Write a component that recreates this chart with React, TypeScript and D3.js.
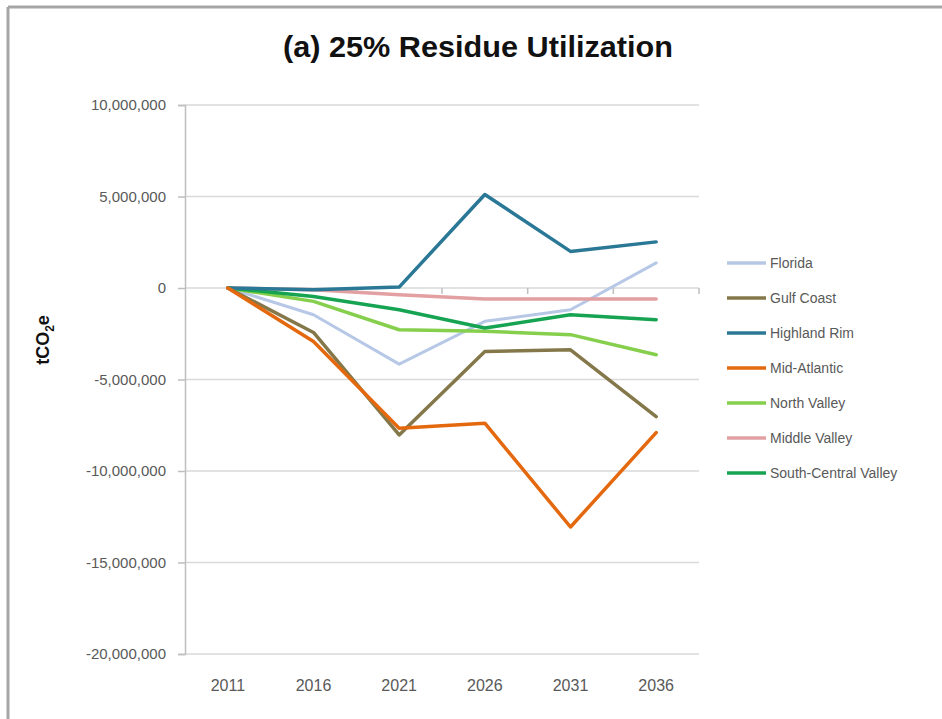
import React, { useEffect, useRef } from 'react';
import * as d3 from 'd3';

// Years on the category axis
const years = ['2011', '2016', '2021', '2026', '2031', '2036'];

// Series values (tCO2e)
const florida = [0, -1460000, -4160000, -1820000, -1190000, 1370000];
const gulfCoast = [0, -2430000, -8030000, -3470000, -3380000, -7030000];
const highlandRim = [0, -100000, 50000, 5110000, 2000000, 2520000];
const midAtlantic = [0, -2920000, -7660000, -7390000, -13060000, -7900000];
const northValley = [0, -730000, -2280000, -2370000, -2550000, -3650000];
const middleValley = [0, -100000, -370000, -600000, -600000, -600000];
const southCentralValley = [0, -460000, -1190000, -2190000, -1460000, -1730000];

const seriesNames = ['Florida', 'Gulf Coast', 'Highland Rim', 'Mid-Atlantic', 'North Valley', 'Middle Valley', 'South-Central Valley'];
const seriesValues = [florida, gulfCoast, highlandRim, midAtlantic, northValley, middleValley, southCentralValley];
const seriesColors = ['#b7c8e6', '#84784a', '#2a7896', '#e4690e', '#86cf4c', '#e2a0a3', '#16a352'];

const yTicks = [10000000, 5000000, 0, -5000000, -10000000, -15000000, -20000000];

const App = () => {
  const ref = useRef<SVGSVGElement | null>(null);

  useEffect(() => {
    if (!ref.current) return;
    const svg = d3.select(ref.current);
    svg.selectAll('*').remove();

    const width = 942;
    const height = 719;
    const plot = { left: 185, right: 699, top: 105, bottom: 654 };

    // Outer frame (top and left edge)
    svg.append('line').attr('x1', 8).attr('x2', width).attr('y1', 7).attr('y2', 7)
      .attr('stroke', '#a6a6a6').attr('stroke-width', 3);
    svg.append('line').attr('x1', 8).attr('x2', 8).attr('y1', 7).attr('y2', height)
      .attr('stroke', '#a6a6a6').attr('stroke-width', 3);

    const x = d3.scaleBand<string>()
      .domain(years)
      .range([plot.left, plot.right])
      .padding(0);

    const y = d3.scaleLinear()
      .domain([-20000000, 10000000])
      .range([plot.bottom, plot.top]);

    // Gridlines
    svg.append('g')
      .selectAll('line')
      .data(yTicks)
      .enter()
      .append('line')
      .attr('x1', plot.left)
      .attr('x2', plot.right)
      .attr('y1', d => y(d))
      .attr('y2', d => y(d))
      .attr('stroke', '#d9d9d9')
      .attr('stroke-width', 1.5);

    // Y axis (plain hyphen for negatives, like Excel)
    const fmt = (d: number) => d3.format(',')(d).replace('\u2212', '-');
    const yAxis = svg.append('g')
      .attr('transform', `translate(${plot.left},0)`)
      .call(d3.axisLeft(y).tickValues(yTicks).tickSize(7).tickPadding(12)
        .tickFormat(d => fmt(d as number)) as any);
    yAxis.select('.domain').attr('stroke', '#bfbfbf').attr('stroke-width', 1.5);
    yAxis.selectAll('.tick line').attr('stroke', '#bfbfbf').attr('stroke-width', 1.5);
    yAxis.selectAll('.tick text')
      .style('font-family', '"Liberation Sans", Arial, sans-serif')
      .style('font-size', '15px')
      .attr('fill', '#595959');

    // Category axis at zero with tick marks on band boundaries
    const boundaries = years.map((yr) => (x(yr) as number) + x.bandwidth());
    svg.append('g')
      .selectAll('line')
      .data(boundaries)
      .enter()
      .append('line')
      .attr('x1', d => d)
      .attr('x2', d => d)
      .attr('y1', y(0))
      .attr('y2', y(0) + 6)
      .attr('stroke', '#bfbfbf')
      .attr('stroke-width', 1.5);

    // Category labels at the bottom
    svg.append('g')
      .selectAll('text')
      .data(years)
      .enter()
      .append('text')
      .attr('x', d => (x(d) as number) + x.bandwidth() / 2)
      .attr('y', 691)
      .attr('text-anchor', 'middle')
      .style('font-family', '"Liberation Sans", Arial, sans-serif')
      .style('font-size', '16px')
      .attr('fill', '#595959')
      .text(d => d);

    // Lines
    const line = d3.line<number>()
      .x((_, i) => (x(years[i]) as number) + x.bandwidth() / 2)
      .y(d => y(d));

    // draw in an order close to the reference stacking
    const order = [0, 5, 4, 6, 2, 1, 3];
    order.forEach((si) => {
      svg.append('path')
        .datum(seriesValues[si])
        .attr('d', line)
        .attr('fill', 'none')
        .attr('stroke', seriesColors[si])
        .attr('stroke-width', si === 0 ? 3 : 3.5)
        .attr('stroke-linejoin', 'round')
        .attr('stroke-linecap', 'round');
    });

    // Legend
    const legend = svg.append('g');
    seriesNames.forEach((name, i) => {
      const ly = 263 + i * 35;
      legend.append('line')
        .attr('x1', 727).attr('x2', 766)
        .attr('y1', ly).attr('y2', ly)
        .attr('stroke', seriesColors[i])
        .attr('stroke-width', 3.5);
      legend.append('text')
        .attr('x', 770)
        .attr('y', ly + 5)
        .style('font-family', '"Liberation Sans", Arial, sans-serif')
        .style('font-size', '14px')
        .attr('fill', '#595959')
        .text(name);
    });

    // Title
    svg.append('text')
      .attr('x', 478)
      .attr('y', 57)
      .attr('text-anchor', 'middle')
      .attr('textLength', 390)
      .attr('lengthAdjust', 'spacingAndGlyphs')
      .style('font-family', '"Liberation Sans", Arial, sans-serif')
      .style('font-size', '29px')
      .style('font-weight', 'bold')
      .attr('fill', '#111111')
      .text('(a) 25% Residue Utilization');

    // Y axis title with subscript
    const yt = svg.append('text')
      .attr('transform', `translate(49,340) rotate(-90)`)
      .attr('text-anchor', 'middle')
      .style('font-family', '"Liberation Sans", Arial, sans-serif')
      .style('font-size', '18px')
      .style('font-weight', 'bold')
      .attr('fill', '#111111');
    yt.append('tspan').text('tCO');
    yt.append('tspan').attr('dy', 5).style('font-size', '12px').text('2');
    yt.append('tspan').attr('dy', -5).text('e');
  }, []);

  return (
    <svg ref={ref} width={942} height={719} style={{ position: 'absolute', left: 0, top: 0, background: '#fff' }} />
  );
};

export default App;
